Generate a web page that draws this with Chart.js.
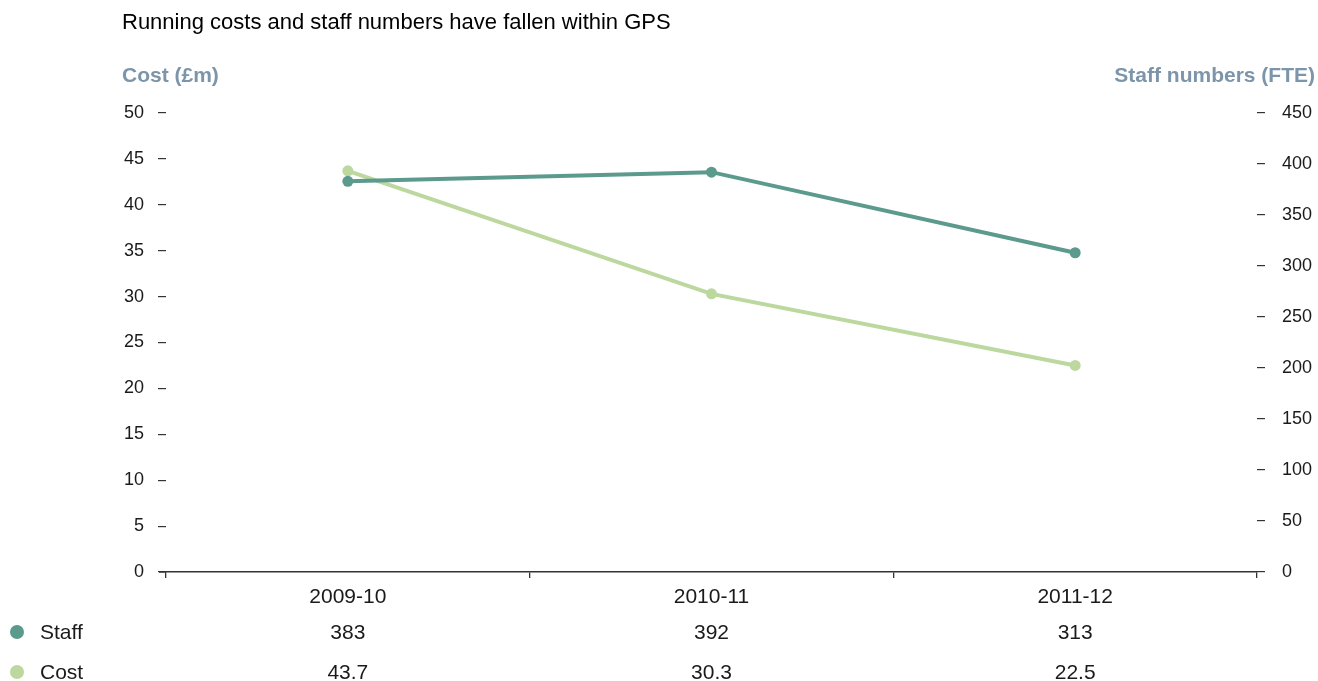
<!DOCTYPE html>
<html>
<head>
<meta charset="utf-8">
<script src="https://cdn.jsdelivr.net/npm/chart.js@4/dist/chart.umd.min.js"></script>
<style>
  html, body { margin: 0; padding: 0; background: #fff; }
  #wrap { position: relative; width: 1318px; height: 681px; }
</style>
</head>
<body>
<div id="wrap"><canvas id="gpsChart"></canvas></div>
<script>
// Datos del gráfico
const years = ['2009-10', '2010-11', '2011-12'];
const staffFte = [383, 392, 313];
const costMillions = [43.7, 30.3, 22.5];
const costTicks = [0, 5, 10, 15, 20, 25, 30, 35, 40, 45, 50];
const staffTicks = [0, 50, 100, 150, 200, 250, 300, 350, 400, 450];

const FONT = "'Liberation Sans', Arial, Helvetica, sans-serif";
const colorStaff = '#5b9a8c';
const colorCost = '#bcd89e';
const colorAxisTitle = '#7d95aa';
const colorText = '#1a1a1a';

// Título, títulos de ejes y la tabla de valores bajo el eje X
const annotationsPlugin = {
    id: 'annotations',
    afterDraw(chart) {
        const { ctx, chartArea } = chart;
        const x = chart.scales.x;
        ctx.save();

        // prolongación del eje X hacia la marca del 0
        ctx.strokeStyle = '#333';
        ctx.lineWidth = 1.5;
        ctx.beginPath();
        ctx.moveTo(chartArea.left - 7, chartArea.bottom);
        ctx.lineTo(chartArea.left, chartArea.bottom);
        ctx.stroke();

        ctx.textBaseline = 'middle';
        ctx.font = `22px ${FONT}`;
        ctx.fillStyle = '#000';
        ctx.textAlign = 'left';
        ctx.fillText('Running costs and staff numbers have fallen within GPS', 122, 23);

        ctx.font = `bold 21px ${FONT}`;
        ctx.fillStyle = colorAxisTitle;
        ctx.fillText('Cost (£m)', 122, 76);
        ctx.textAlign = 'right';
        ctx.fillText('Staff numbers (FTE)', 1315, 76);

        const rows = [
            { label: 'Staff', color: colorStaff, values: staffFte.map(String), y: 633 },
            { label: 'Cost', color: colorCost, values: costMillions.map(v => v.toFixed(1)), y: 673 }
        ];
        ctx.font = `21px ${FONT}`;
        rows.forEach(row => {
            ctx.fillStyle = row.color;
            ctx.beginPath();
            ctx.arc(17, row.y - 1, 7, 0, Math.PI * 2);
            ctx.fill();
            ctx.fillStyle = colorText;
            ctx.textAlign = 'left';
            ctx.fillText(row.label, 40, row.y);
            ctx.textAlign = 'center';
            row.values.forEach((v, i) => ctx.fillText(v, x.getPixelForValue(i), row.y));
        });
        ctx.restore();
    }
};

new Chart(document.getElementById('gpsChart'), {
    type: 'line',
    data: {
        labels: years,
        datasets: [
            {
                label: 'Staff',
                data: staffFte,
                yAxisID: 'y1',
                borderColor: colorStaff,
                backgroundColor: colorStaff,
                borderWidth: 4,
                pointRadius: 5.5,
                pointBorderWidth: 0
            },
            {
                label: 'Cost',
                data: costMillions,
                yAxisID: 'y',
                borderColor: colorCost,
                backgroundColor: colorCost,
                borderWidth: 4,
                pointRadius: 5.5,
                pointBorderWidth: 0
            }
        ]
    },
    plugins: [annotationsPlugin],
    options: {
        responsive: true,
        maintainAspectRatio: false,
        animation: false,
        events: [],
        layout: { padding: { top: 113, left: 100, right: 1, bottom: 69 } },
        plugins: {
            legend: { display: false },
            tooltip: { enabled: false }
        },
        scales: {
            x: {
                offset: true,
                afterFit(scale) { scale.height = 40; },
                border: { display: true, color: '#333', width: 1.5 },
                grid: { offset: true, drawOnChartArea: false, tickLength: 6, color: '#333', lineWidth: 1.3 },
                ticks: { color: colorText, padding: 7, font: { family: FONT, size: 21 } }
            },
            y: {
                position: 'left',
                min: 0,
                max: 50,
                afterFit(scale) { scale.width = 66; },
                afterBuildTicks(scale) { scale.ticks = costTicks.map(v => ({ value: v })); },
                border: { display: false },
                grid: { drawOnChartArea: false, tickLength: 8, color: '#333', lineWidth: 1.2 },
                ticks: { color: colorText, padding: 14, font: { family: FONT, size: 18 } }
            },
            y1: {
                position: 'right',
                min: 0,
                max: 450,
                afterFit(scale) { scale.width = 60; },
                afterBuildTicks(scale) { scale.ticks = staffTicks.map(v => ({ value: v })); },
                border: { display: false },
                grid: { drawOnChartArea: false, tickLength: 8, color: '#333', lineWidth: 1.2 },
                ticks: { color: colorText, padding: 17, font: { family: FONT, size: 18 } }
            }
        }
    }
});
</script>
</body>
</html>
